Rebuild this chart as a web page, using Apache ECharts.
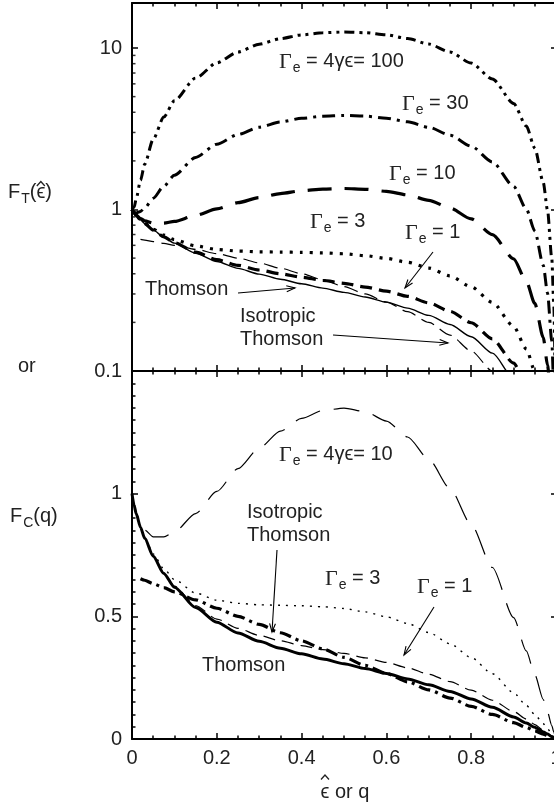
<!DOCTYPE html>
<html><head><meta charset="utf-8">
<script src="https://cdn.jsdelivr.net/npm/echarts@6/dist/echarts.min.js"></script>
<style>html,body{margin:0;padding:0;background:#fff}#c{width:554px;height:805px}</style>
</head><body><div id="c"></div>
<script>
// ---------- data ----------
const xs      = [0, 0.005, 0.01, 0.02, 0.03, 0.05, 0.075, 0.1, 0.15, 0.2, 0.25, 0.3, 0.35, 0.4, 0.45, 0.5, 0.55, 0.6, 0.65, 0.7, 0.75, 0.8, 0.85, 0.9, 0.93, 0.95, 0.97, 0.98, 0.99, 0.995, 0.999, 1];
const thomson = [1, 0.952, 0.918, 0.863, 0.818, 0.745, 0.675, 0.619, 0.536, 0.476, 0.432, 0.398, 0.370, 0.347, 0.326, 0.307, 0.287, 0.267, 0.245, 0.221, 0.194, 0.163, 0.129, 0.090, 0.065, 0.048, 0.029, 0.020, 0.010, 0.005, 0.001, 0];
const isoThomson = [null, null, null, 0.653, 0.647, 0.633, 0.617, 0.600, 0.567, 0.533, 0.500, 0.467, 0.433, 0.400, 0.367, 0.333, 0.300, 0.267, 0.233, 0.200, 0.167, 0.133, 0.100, 0.067, 0.047, 0.033, 0.020, 0.013, 0.007, 0.003, 0.001, 0];
const gamma1  = [1, 0.952, 0.918, 0.863, 0.818, 0.746, 0.677, 0.623, 0.544, 0.489, 0.451, 0.422, 0.400, 0.381, 0.364, 0.349, 0.331, 0.312, 0.290, 0.264, 0.234, 0.199, 0.158, 0.112, 0.081, 0.059, 0.036, 0.024, 0.012, 0.006, 0.001, 0];
const gamma3  = [1, 0.952, 0.918, 0.865, 0.822, 0.754, 0.694, 0.650, 0.595, 0.566, 0.553, 0.547, 0.545, 0.543, 0.539, 0.532, 0.518, 0.498, 0.471, 0.434, 0.388, 0.332, 0.266, 0.189, 0.137, 0.100, 0.062, 0.042, 0.021, 0.011, 0.002, 0];
const gamma10 = [1, 0.953, 0.922, 0.879, 0.852, 0.824, 0.824, 0.844, 0.919, 1.009, 1.102, 1.186, 1.255, 1.307, 1.339, 1.349, 1.334, 1.296, 1.231, 1.140, 1.021, 0.874, 0.699, 0.495, 0.359, 0.262, 0.161, 0.109, 0.055, 0.028, 0.006, 0];
const gamma30 = [1, 0.962, 0.952, 0.973, 1.025, 1.173, 1.395, 1.632, 2.101, 2.533, 2.914, 3.233, 3.486, 3.670, 3.783, 3.823, 3.787, 3.678, 3.491, 3.228, 2.886, 2.467, 1.969, 1.392, 1.008, 0.736, 0.451, 0.304, 0.154, 0.077, 0.016, 0];
const gamma100= [1, 1.035, 1.166, 1.516, 1.909, 2.724, 3.736, 4.710, 6.513, 8.095, 9.446, 10.559, 11.429, 12.054, 12.432, 12.562, 12.441, 12.070, 11.448, 10.573, 9.445, 8.064, 6.430, 4.541, 3.285, 2.398, 1.469, 0.990, 0.500, 0.251, 0.051, 0];

const xTickLabels   = ['0', '0.2', '0.4', '0.6', '0.8', '1'];
const topTickValues = [0.1, 1, 10];
const topTickLabels = ['0.1', '1', '10'];
const logMinorTicks = [0.2, 0.3, 0.4, 0.5, 0.6, 0.7, 0.8, 0.9, 2, 3, 4, 5, 6, 7, 8, 9];
const botTickLabels = ['0', '0.5', '1'];

// ---------- helpers ----------
const SANS = '"Liberation Sans", Arial, Helvetica, sans-serif';
const SERIF = '"Liberation Serif", "Times New Roman", serif';
const TXT = '#222';
const mctx = document.createElement('canvas').getContext('2d');
function tw(text, size, family) { mctx.font = size + 'px ' + family; return mctx.measureText(text).width; }

function pairs(arr, positive) {
  return xs.map((x, i) => [x, arr[i]]).filter(p => p[1] !== null && (!positive || p[1] > 0));
}
function curve(arr, panel, style) {
  return {
    type: 'line', xAxisIndex: panel * 2, yAxisIndex: panel * 2,
    data: pairs(arr, panel === 0), symbol: 'none', showSymbol: false,
    smooth: 0.25, smoothMonotone: 'x', clip: true, silent: true,
    lineStyle: Object.assign({ color: '#000', cap: 'butt' }, style)
  };
}
const axisLine = { show: true, onZero: false, lineStyle: { color: '#000', width: 2 } };
function xAx(gridIndex, position, showLabel) {
  return {
    type: 'value', gridIndex, position, min: 0, max: 1, interval: 0.2,
    axisLine,
    axisTick: { show: true, inside: true, length: 6, lineStyle: { color: '#000', width: 1.5 } },
    minorTick: { show: true, splitNumber: 4, length: 3.5, lineStyle: { color: '#000', width: 1.5 } },
    axisLabel: { show: showLabel, margin: 9, fontSize: 20, color: TXT, fontFamily: SANS,
      formatter: v => xTickLabels[Math.round(v / 0.2)] },
    splitLine: { show: false }, minorSplitLine: { show: false }
  };
}
function logY(position, showLabel) {
  return {
    type: 'log', logBase: 10, gridIndex: 0, position, min: 0.1, max: 19,
    axisLine,
    axisTick: { show: true, inside: true, length: position === 'left' ? 6 : 5, lineStyle: { color: '#000', width: 1.5 } },
    axisLabel: { show: showLabel, margin: 10, fontSize: 20, color: TXT, fontFamily: SANS, showMaxLabel: false,
      formatter: v => { const i = topTickValues.findIndex(t => Math.abs(t - v) / t < 1e-6); return i >= 0 ? topTickLabels[i] : ''; } },
    splitLine: { show: false }
  };
}
function linY(position, showLabel) {
  return {
    type: 'value', gridIndex: 1, position, min: 0, max: 1.5, interval: 0.5,
    axisLine,
    axisTick: { show: true, inside: true, length: position === 'left' ? 6 : 5, lineStyle: { color: '#000', width: 1.5 } },
    minorTick: { show: position === 'left', splitNumber: 10, length: 3.5, lineStyle: { color: '#000', width: 1.5 } },
    axisLabel: { show: showLabel, margin: 10, fontSize: 20, color: TXT, fontFamily: SANS,
      formatter: v => (v > 1.4 ? '' : botTickLabels[Math.round(v / 0.5)]) },
    splitLine: { show: false }, minorSplitLine: { show: false }
  };
}
const RICH = {
  g: { fontFamily: SERIF, fontSize: 22, lineHeight: 22, verticalAlign: 'top', fill: TXT },
  s: { fontFamily: SANS, fontSize: 14, lineHeight: 16, padding: [10, 0, 0, 1], verticalAlign: 'top', fill: TXT },
  n: { fontFamily: SANS, fontSize: 20, lineHeight: 22, verticalAlign: 'top', fill: TXT }
};
function richText(x, yc, text, align) {
  return { type: 'text', x, y: yc - 11, silent: true,
    style: { text, rich: RICH, fill: TXT, align: align || 'left', verticalAlign: 'top' } };
}
function gammaLabel(x, yc, rest) { return richText(x, yc, '{g|Γ}{s|e}{n|' + rest + '}'); }
function plain(x, yc, t, align) { return richText(x, yc, '{n|' + t + '}', align); }
function hat(cx, yTop) {
  return { type: 'polyline', silent: true,
    shape: { points: [[cx - 4, yTop + 4.5], [cx, yTop], [cx + 4, yTop + 4.5]] },
    style: { stroke: TXT, lineWidth: 1.3, fill: null } };
}
function arrow(x1, y1, x2, y2) {
  const a = Math.atan2(y2 - y1, x2 - x1), L = 9, w = 0.33;
  return { type: 'group', silent: true, children: [
    { type: 'line', shape: { x1, y1, x2, y2 }, style: { stroke: '#000', lineWidth: 1.1 } },
    { type: 'polyline', shape: { points: [
      [x2 - L * Math.cos(a - w), y2 - L * Math.sin(a - w)], [x2, y2],
      [x2 - L * Math.cos(a + w), y2 - L * Math.sin(a + w)] ] },
      style: { stroke: '#000', lineWidth: 1.1, fill: null } }
  ] };
}

// hat positions for the epsilon-hat glyphs
const ftEpsX = 8 + tw('F', 20, SANS) + 1 + tw('T', 14, SANS) + tw('(', 20, SANS) + tw('ϵ', 20, SANS) / 2;
const xTitle = 'ϵ or q';
const xTitleCx = 345;
const xEpsX = xTitleCx - tw(xTitle, 20, SANS) / 2 + tw('ϵ', 20, SANS) / 2;

const chart = echarts.init(document.getElementById('c'), null, { renderer: 'canvas' });
chart.setOption({
  animation: false,
  backgroundColor: '#fff',
  grid: [
    { left: 132, right: -2, top: 3, height: 368, containLabel: false, outerBoundsMode: 'none' },
    { left: 132, right: -2, top: 371, height: 368, containLabel: false, outerBoundsMode: 'none' }
  ],
  xAxis: [xAx(0, 'bottom', false), xAx(0, 'top', false), xAx(1, 'bottom', true), xAx(1, 'top', false)],
  yAxis: [logY('left', true), logY('right', false), linY('left', true), linY('right', false)],
  series: [
    // top panel (log)
    curve(gamma100, 0, { width: 3, type: [10, 5, 3, 5, 3, 5] }),
    curve(gamma30, 0, { width: 3, type: [13, 6, 3, 6] }),
    curve(gamma10, 0, { width: 3.2, type: [24, 13] }),
    curve(gamma3, 0, { width: 3.2, type: [3, 7] }),
    curve(gamma1, 0, { width: 3.2, type: [12, 7] }),
    curve(thomson, 0, { width: 1.4 }),
    curve(isoThomson, 0, { width: 1.2, type: [14, 7] }),
    // bottom panel (linear)
    curve(gamma10, 1, { width: 1.2, type: [26, 14] }),
    curve(gamma3, 1, { width: 1.4, type: [2, 6] }),
    curve(gamma1, 1, { width: 1.2, type: [12, 7] }),
    curve(thomson, 1, { width: 3 }),
    curve(isoThomson, 1, { width: 3.2, type: [12, 5, 3, 5] }),
    // minor ticks of the log axis (2..9 per decade)
    { type: 'scatter', xAxisIndex: 0, yAxisIndex: 0, silent: true, clip: false,
      data: logMinorTicks.map(v => [0, v]), symbol: 'rect', symbolSize: [3.5, 1.5],
      symbolOffset: [1.75, 0], itemStyle: { color: '#000' } }
  ],
  graphic: [
    gammaLabel(279, 62, ' = 4γϵ= 100'),
    gammaLabel(402, 104, ' = 30'),
    gammaLabel(389, 174, ' = 10'),
    gammaLabel(310, 222, ' = 3'),
    gammaLabel(405, 233, ' = 1'),
    plain(145, 290, 'Thomson'),
    plain(240, 317, 'Isotropic'),
    plain(240, 340, 'Thomson'),
    gammaLabel(279, 455, ' = 4γϵ= 10'),
    plain(247, 513, 'Isotropic'),
    plain(247, 536, 'Thomson'),
    gammaLabel(325, 579, ' = 3'),
    gammaLabel(417, 587, ' = 1'),
    plain(202, 666, 'Thomson'),
    richText(8, 193, '{n|F}{s|T}{n|(ϵ)}'),
    hat(ftEpsX, 181.5),
    plain(18, 367, 'or'),
    richText(10, 517, '{n|F}{s|C}{n|(q)}'),
    plain(xTitleCx, 793, xTitle, 'center'),
    hat(xEpsX, 775),
    arrow(238, 293, 295, 288),
    arrow(333, 335, 448, 343),
    arrow(433, 252, 405, 288),
    arrow(277, 550, 272, 632),
    arrow(434, 607, 404, 655)
  ]
});
</script></body></html>
